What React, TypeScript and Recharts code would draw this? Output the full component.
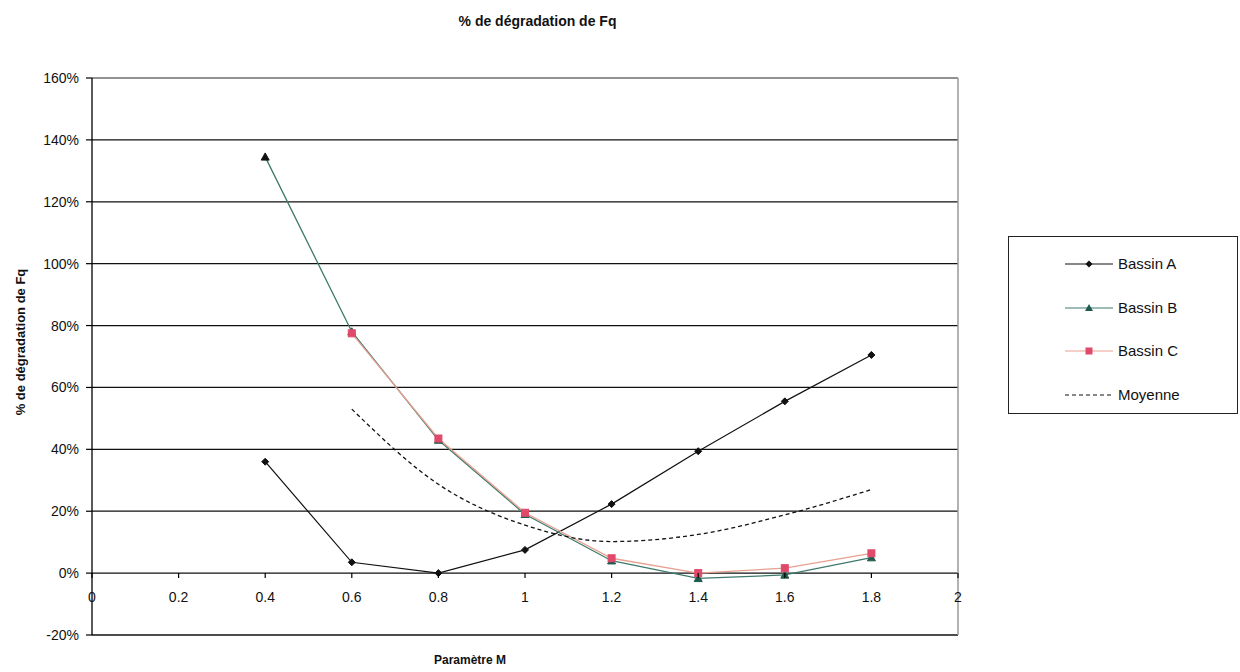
import React from 'react';
import { LineChart, Line, XAxis, YAxis, CartesianGrid, ReferenceLine } from 'recharts';

const paramM = [0.4, 0.6, 0.8, 1.0, 1.2, 1.4, 1.6, 1.8];
const bassinA = [36, 3.5, 0, 7.5, 22.3, 39.4, 55.5, 70.5];
const bassinB = [134.5, 78, 43, 19, 4, -1.7, -0.6, 5];
const bassinC = [null, 77.5, 43.5, 19.5, 4.8, 0, 1.6, 6.4];
const moyenne = [null, 53, 28.7, 15.5, 10.2, 12.5, 18.8, 27];

const xTicks = [0, 0.2, 0.4, 0.6, 0.8, 1, 1.2, 1.4, 1.6, 1.8, 2];
const xTickLabels = ['0', '0.2', '0.4', '0.6', '0.8', '1', '1.2', '1.4', '1.6', '1.8', '2'];
const yTicks = [-20, 0, 20, 40, 60, 80, 100, 120, 140, 160];

const seriesNames = ['Bassin A', 'Bassin B', 'Bassin C', 'Moyenne'];

const rows = paramM.map((m, i) => ({
  m,
  a: bassinA[i],
  b: bassinB[i],
  c: bassinC[i],
  moy: moyenne[i],
}));

const FONT = 'Arial, "Liberation Sans", sans-serif';

const COL_A = '#111111';
const COL_B_LINE = '#3d7a6c';
const COL_B_MARK = '#1f5a4c';
const COL_C_LINE = '#e8a090';
const COL_C_MARK = '#e04a6a';

const Diamond = (props: any) => {
  const { cx, cy } = props;
  if (cx == null || cy == null) return <g key={props.key} />;
  const s = 3.5;
  return (
    <polygon key={props.key} points={`${cx},${cy - s} ${cx + s},${cy} ${cx},${cy + s} ${cx - s},${cy}`} fill={COL_A} stroke={COL_A} />
  );
};

const Triangle = (props: any) => {
  const { cx, cy, index } = props;
  if (cx == null || cy == null) return <g key={props.key} />;
  const s = 4;
  const c = index === 0 ? '#111' : COL_B_MARK;
  return (
    <polygon key={props.key} points={`${cx},${cy - s} ${cx + s},${cy + s * 0.8} ${cx - s},${cy + s * 0.8}`} fill={c} stroke={c} />
  );
};

const Square = (props: any) => {
  const { cx, cy } = props;
  if (cx == null || cy == null) return <g key={props.key} />;
  const s = 3.5;
  return <rect key={props.key} x={cx - s} y={cy - s} width={s * 2} height={s * 2} fill={COL_C_MARK} stroke={COL_C_MARK} />;
};

const XTick = (props: any) => {
  const { x, y, payload } = props;
  const zeroY = y - 62;
  const idx = xTicks.findIndex((t) => Math.abs(t - payload.value) < 1e-6);
  return (
    <g>
      <line x1={x} x2={x} y1={zeroY} y2={zeroY + 5} stroke="#000" strokeWidth={1.2} />
      <text x={x} y={zeroY + 29} textAnchor="middle" fontSize={14} fontFamily={FONT} fill="#111">
        {idx >= 0 ? xTickLabels[idx] : ''}
      </text>
    </g>
  );
};

const LegendBox = () => {
  const items = [
    { name: seriesNames[0], color: COL_A, mark: 'diamond' },
    { name: seriesNames[1], color: COL_B_LINE, mark: 'triangle' },
    { name: seriesNames[2], color: COL_C_LINE, mark: 'square' },
    { name: seriesNames[3], color: '#111', mark: 'dash' },
  ];
  return (
    <div style={{ position: 'absolute', left: 1008, top: 236, width: 230, height: 178, border: '1.5px solid #222', boxSizing: 'border-box', background: '#fff' }}>
      {items.map((it, i) => {
        const cy = 27 + i * 43.5;
        return (
          <div key={it.name} style={{ position: 'absolute', left: 0, top: cy - 10, height: 20, width: 228 }}>
            <svg width={50} height={20} style={{ position: 'absolute', left: 56, top: 0 }}>
              {it.mark === 'dash' ? (
                <line x1={0} x2={48} y1={10} y2={10} stroke="#111" strokeWidth={1.2} strokeDasharray="4 3" />
              ) : (
                <line x1={0} x2={48} y1={10} y2={10} stroke={it.color} strokeWidth={1.2} />
              )}
              {it.mark === 'diamond' && <polygon points="24,6.5 27.5,10 24,13.5 20.5,10" fill={COL_A} />}
              {it.mark === 'triangle' && <polygon points="24,6 28,13 20,13" fill={COL_B_MARK} />}
              {it.mark === 'square' && <rect x={20.5} y={6.5} width={7} height={7} fill={COL_C_MARK} />}
            </svg>
            <span style={{ position: 'absolute', left: 109, top: 1, fontSize: 15, fontFamily: FONT, color: '#111', lineHeight: '18px' }}>
              {it.name}
            </span>
          </div>
        );
      })}
    </div>
  );
};

export default function App() {
  return (
    <div style={{ position: 'absolute', left: 0, top: 0, width: 1240, height: 672, background: '#fff', fontFamily: FONT }}>
      <div style={{ position: 'absolute', left: 0, width: 1075, top: 13, textAlign: 'center', fontSize: 14, fontWeight: 'bold', color: '#111' }}>
        % de dégradation de Fq
      </div>
      <div
        style={{
          position: 'absolute',
          left: 20,
          top: 342,
          transform: 'translate(-50%, -50%) rotate(-90deg)',
          whiteSpace: 'nowrap',
          fontSize: 13,
          fontWeight: 'bold',
          color: '#111',
        }}
      >
        % de dégradation de Fq
      </div>
      <div style={{ position: 'absolute', left: 470, top: 653, transform: 'translateX(-50%)', fontSize: 12, fontWeight: 'bold', color: '#111', whiteSpace: 'nowrap' }}>
        Paramètre M
      </div>
      <LineChart width={1240} height={672} data={rows} margin={{ top: 78, right: 282, bottom: 17, left: 32 }}>
        <CartesianGrid vertical={false} stroke="#111" strokeWidth={1.3} />
        <ReferenceLine y={160} stroke="#aaa" strokeWidth={1.5} />
        <ReferenceLine x={2} stroke="#999" strokeWidth={1.5} />
        <XAxis
          dataKey="m"
          type="number"
          domain={[0, 2]}
          ticks={xTicks}
          interval={0}
          tick={<XTick />}
          tickLine={false}
          axisLine={false}
          tickSize={0}
          tickMargin={0}
          height={20}
        />
        <YAxis
          type="number"
          domain={[-20, 160]}
          ticks={yTicks}
          interval={0}
          width={60}
          tickFormatter={(v: number) => `${v}%`}
          tick={{ fontSize: 14, fontFamily: FONT, fill: '#111' }}
          axisLine={{ stroke: '#000', strokeWidth: 1.3 }}
          tickLine={{ stroke: '#000', strokeWidth: 1.2 }}
          tickSize={6}
          tickMargin={7}
        />
        <Line name={seriesNames[0]} dataKey="a" type="linear" stroke={COL_A} strokeWidth={1.2} dot={Diamond} isAnimationActive={false} />
        <Line name={seriesNames[1]} dataKey="b" type="linear" stroke={COL_B_LINE} strokeWidth={1.3} dot={Triangle} isAnimationActive={false} />
        <Line name={seriesNames[2]} dataKey="c" type="linear" stroke={COL_C_LINE} strokeWidth={1.3} dot={Square} isAnimationActive={false} />
        <Line name={seriesNames[3]} dataKey="moy" type="monotone" stroke="#111" strokeWidth={1.3} strokeDasharray="4 3" dot={false} isAnimationActive={false} />
      </LineChart>
      <LegendBox />
    </div>
  );
}
